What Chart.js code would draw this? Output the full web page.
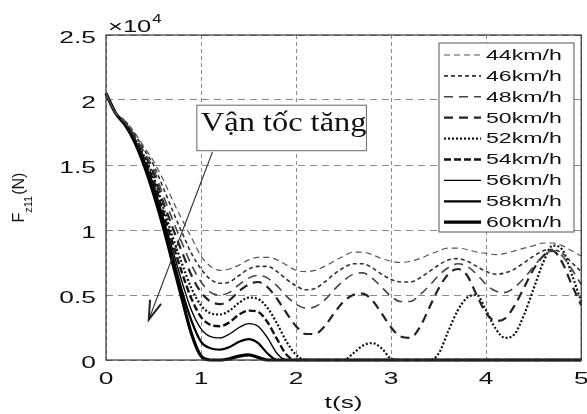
<!DOCTYPE html>
<html>
<head>
<meta charset="utf-8">
<script src="https://cdn.jsdelivr.net/npm/chart.js@4.4.0/dist/chart.umd.min.js"></script>
<style>
html, body { margin: 0; padding: 0; background: #fff; }
#wrap { width: 587px; height: 414px; }
</style>
</head>
<body>
<div id="wrap"><canvas id="chart"></canvas></div>
<script>
// time (s)
var t = [0,0.1,0.2,0.3,0.4,0.5,0.6,0.7,0.8,0.9,1,1.1,1.2,1.3,1.4,1.5,1.6,1.7,1.8,1.9,2,2.1,2.2,2.3,2.4,2.5,2.6,2.7,2.8,2.9,3,3.1,3.2,3.3,3.4,3.5,3.6,3.7,3.8,3.9,4,4.1,4.2,4.3,4.4,4.5,4.6,4.7,4.8,4.9,5];

// Fz11 in units of 10^4 N, one array per speed
var f44 = [2.05,1.9,1.84,1.75,1.64,1.53,1.39,1.23,1.08,0.94,0.8,0.72,0.69,0.7,0.73,0.77,0.79,0.79,0.77,0.73,0.69,0.68,0.69,0.72,0.76,0.8,0.83,0.83,0.81,0.78,0.76,0.75,0.76,0.78,0.81,0.84,0.86,0.86,0.85,0.83,0.82,0.81,0.82,0.84,0.86,0.88,0.9,0.9,0.88,0.84,0.8];
var f46 = [2.05,1.9,1.84,1.74,1.62,1.5,1.33,1.15,0.98,0.82,0.7,0.62,0.59,0.6,0.65,0.7,0.72,0.72,0.68,0.62,0.57,0.54,0.55,0.6,0.66,0.71,0.74,0.74,0.71,0.66,0.62,0.6,0.6,0.63,0.68,0.73,0.77,0.78,0.76,0.72,0.68,0.66,0.67,0.7,0.75,0.8,0.84,0.85,0.82,0.75,0.68];
var f48 = [2.05,1.9,1.83,1.73,1.6,1.47,1.27,1.08,0.9,0.73,0.6,0.52,0.5,0.52,0.58,0.63,0.65,0.63,0.57,0.49,0.43,0.4,0.41,0.46,0.54,0.61,0.66,0.67,0.63,0.56,0.49,0.45,0.45,0.5,0.57,0.65,0.71,0.74,0.72,0.66,0.58,0.53,0.52,0.56,0.63,0.72,0.8,0.84,0.8,0.7,0.58];
var f50 = [2.05,1.9,1.83,1.72,1.59,1.44,1.22,1.02,0.83,0.65,0.52,0.45,0.43,0.46,0.53,0.58,0.6,0.56,0.47,0.36,0.26,0.2,0.2,0.26,0.36,0.45,0.5,0.51,0.46,0.36,0.25,0.18,0.17,0.25,0.4,0.55,0.66,0.7,0.65,0.5,0.36,0.3,0.32,0.42,0.56,0.7,0.8,0.84,0.75,0.58,0.42];
var f52 = [2.05,1.9,1.82,1.71,1.57,1.41,1.18,0.95,0.74,0.55,0.42,0.36,0.35,0.38,0.44,0.48,0.47,0.4,0.28,0.14,0.04,0,0,0,0,0,0.05,0.11,0.13,0.09,0.01,0,0,0,0,0.05,0.22,0.38,0.48,0.5,0.38,0.24,0.17,0.2,0.35,0.55,0.75,0.88,0.85,0.66,0.45];
var f54 = [2.05,1.9,1.82,1.7,1.55,1.38,1.14,0.9,0.67,0.47,0.33,0.27,0.26,0.29,0.35,0.38,0.37,0.29,0.16,0.04,0,0,0,0,0,0,0,0,0,0,0,0,0,0,0,0,0,0,0,0,0,0,0,0,0,0,0,0,0,0,0];
var f56 = [2.05,1.9,1.82,1.7,1.54,1.35,1.1,0.85,0.6,0.38,0.24,0.18,0.17,0.2,0.25,0.28,0.26,0.17,0.05,0,0,0,0,0,0,0,0,0,0,0,0,0,0,0,0,0,0,0,0,0,0,0,0,0,0,0,0,0,0,0,0];
var f58 = [2.05,1.9,1.81,1.69,1.52,1.31,1.07,0.8,0.53,0.3,0.14,0.09,0.08,0.1,0.14,0.16,0.13,0.05,0,0,0,0,0,0,0,0,0,0,0,0,0,0,0,0,0,0,0,0,0,0,0,0,0,0,0,0,0,0,0,0,0];
var f60 = [2.05,1.9,1.81,1.68,1.5,1.28,1.03,0.75,0.47,0.2,0.03,0,0,0.01,0.03,0.04,0.02,0,0,0,0,0,0,0,0,0,0,0,0,0,0,0,0,0,0,0,0,0,0,0,0,0,0,0,0,0,0,0,0,0,0];

var speeds = ['44km/h','46km/h','48km/h','50km/h','52km/h','54km/h','56km/h','58km/h','60km/h'];
var series = [f44, f46, f48, f50, f52, f54, f56, f58, f60];

// line look for each speed
var colors = ['#555','#333','#444','#222','#111','#111','#000','#000','#000'];
var widths = [1.2, 1.6, 1.6, 2.2, 2.2, 2.4, 1.4, 2.2, 3.2];
var dashes = [[6,4],[4,3],[9,6],[9,6],[2,2],[7,3],[],[],[]];

var SANS = '"Liberation Sans", Arial, sans-serif';

function wideText(ctx, s, x, y, sx, align) {
	ctx.save();
	ctx.translate(x, y);
	ctx.scale(sx, 1);
	ctx.textAlign = align;
	ctx.fillText(s, 0, 0);
	ctx.restore();
}

function tickText(v) {
	return String(Math.round(v * 10) / 10);
}

var extras = {
	id: 'extras',
	afterDraw: function(chart) {
		var ctx = chart.ctx, a = chart.chartArea;
		var xs = chart.scales.x, ys = chart.scales.y;
		ctx.save();
		ctx.setLineDash([]);

		// frame
		ctx.strokeStyle = '#333';
		ctx.lineWidth = 1.2;
		ctx.strokeRect(a.left, a.top, a.right - a.left, a.bottom - a.top);

		// tick labels
		ctx.fillStyle = '#111';
		ctx.font = '17px ' + SANS;
		ctx.textBaseline = 'middle';
		ys.ticks.forEach(function(tk) {
			wideText(ctx, tickText(tk.value), a.left - 10, ys.getPixelForValue(tk.value) + 3, 1.55, 'right');
		});
		xs.ticks.forEach(function(tk) {
			wideText(ctx, tickText(tk.value), xs.getPixelForValue(tk.value), a.bottom + 19, 1.55, 'center');
		});

		// x title
		wideText(ctx, 't(s)', (a.left + a.right) / 2, 403, 1.55, 'center');

		// exponent
		ctx.textAlign = 'left';
		wideText(ctx, '\u00d710', a.left + 2, 27, 1.5, 'left');
		var w = ctx.measureText('\u00d710').width * 1.5;
		ctx.font = '12px ' + SANS;
		wideText(ctx, '4', a.left + 3 + w, 20, 1.4, 'left');

		// y title with subscript
		ctx.save();
		ctx.translate(20, 198);
		ctx.rotate(-Math.PI / 2);
		ctx.font = '16px ' + SANS;
		var w1 = ctx.measureText('F').width;
		var w3 = ctx.measureText('(N)').width;
		ctx.font = '11px ' + SANS;
		var w2 = ctx.measureText('z11').width;
		var x0 = -(w1 + w2 + w3) / 2;
		ctx.textAlign = 'left';
		ctx.font = '16px ' + SANS;
		ctx.fillText('F', x0, 0);
		ctx.fillText('(N)', x0 + w1 + w2 + 1, 0);
		ctx.font = '11px ' + SANS;
		ctx.fillText('z11', x0 + w1, 9);
		ctx.restore();

		// legend
		var lx = 439, ly = 43, lw = 135, lh = 189;
		ctx.fillStyle = '#fff';
		ctx.fillRect(lx, ly, lw, lh);
		ctx.strokeStyle = '#555';
		ctx.lineWidth = 1;
		ctx.strokeRect(lx, ly, lw, lh);
		ctx.font = '14px ' + SANS;
		ctx.textBaseline = 'middle';
		chart.data.datasets.forEach(function(ds, i) {
			var yy = ly + 12 + i * 20.9;
			ctx.strokeStyle = ds.borderColor;
			ctx.lineWidth = ds.borderWidth;
			ctx.setLineDash(ds.borderDash);
			ctx.beginPath();
			ctx.moveTo(lx + 5, yy);
			ctx.lineTo(lx + 42, yy);
			ctx.stroke();
			ctx.setLineDash([]);
			ctx.fillStyle = '#111';
			wideText(ctx, ds.label, lx + 47, yy + 1, 1.65, 'left');
		});

		// annotation box and arrow
		var bx1 = xs.getPixelForValue(0.956), bx2 = xs.getPixelForValue(2.74);
		var by1 = ys.getPixelForValue(1.96), by2 = ys.getPixelForValue(1.61);
		ctx.fillStyle = '#fff';
		ctx.fillRect(bx1, by1, bx2 - bx1, by2 - by1);
		ctx.strokeStyle = '#666';
		ctx.lineWidth = 1;
		ctx.strokeRect(bx1, by1, bx2 - bx1, by2 - by1);
		ctx.fillStyle = '#111';
		ctx.font = '27px "Liberation Serif", "Times New Roman", serif';
		ctx.textBaseline = 'alphabetic';
		wideText(ctx, 'V\u1eadn t\u1ed1c t\u0103ng', bx1 + 4, by1 + 26, 1.2, 'left');

		var ax1 = xs.getPixelForValue(1.12), ay1 = ys.getPixelForValue(1.6);
		var ax2 = xs.getPixelForValue(0.45), ay2 = ys.getPixelForValue(0.31);
		ctx.strokeStyle = '#333';
		ctx.lineWidth = 1.1;
		ctx.beginPath();
		ctx.moveTo(ax1, ay1);
		ctx.lineTo(ax2, ay2);
		ctx.stroke();
		var ang = Math.atan2(ay1 - ay2, ax1 - ax2);
		ctx.strokeStyle = '#222';
		ctx.lineWidth = 2;
		ctx.beginPath();
		ctx.moveTo(ax2 + 20 * Math.cos(ang + 0.3), ay2 + 20 * Math.sin(ang + 0.3));
		ctx.lineTo(ax2, ay2);
		ctx.lineTo(ax2 + 20 * Math.cos(ang - 0.3), ay2 + 20 * Math.sin(ang - 0.3));
		ctx.stroke();

		ctx.restore();
	}
};

var datasets = series.map(function(vals, i) {
	return {
		label: speeds[i],
		data: t.map(function(x, k) { return { x: x, y: vals[k] }; }),
		borderColor: colors[i],
		borderWidth: widths[i],
		borderDash: dashes[i],
		pointRadius: 0,
		fill: false,
		clip: false,
		cubicInterpolationMode: 'monotone'
	};
});

new Chart(document.getElementById('chart'), {
	type: 'line',
	data: { datasets: datasets },
	options: {
		responsive: true,
		maintainAspectRatio: false,
		animation: false,
		layout: { padding: { top: 35, right: 5, left: 0, bottom: 0 } },
		plugins: {
			legend: { display: false },
			tooltip: { enabled: false }
		},
		scales: {
			x: {
				type: 'linear',
				min: 0,
				max: 5,
				ticks: { stepSize: 1, color: 'rgba(0,0,0,0)', font: { size: 10 } },
				grid: { color: '#8a8a8a', lineWidth: 1, drawTicks: false },
				border: { display: false, dash: [4, 3] },
				afterFit: function(s) { s.height = 54; }
			},
			y: {
				min: 0,
				max: 2.5,
				ticks: { stepSize: 0.5, color: 'rgba(0,0,0,0)', font: { size: 10 } },
				grid: { color: '#8a8a8a', lineWidth: 1, drawTicks: false },
				border: { display: false, dash: [7, 5] },
				afterFit: function(s) { s.width = 106; }
			}
		}
	},
	plugins: [extras]
});
</script>
</body>
</html>
